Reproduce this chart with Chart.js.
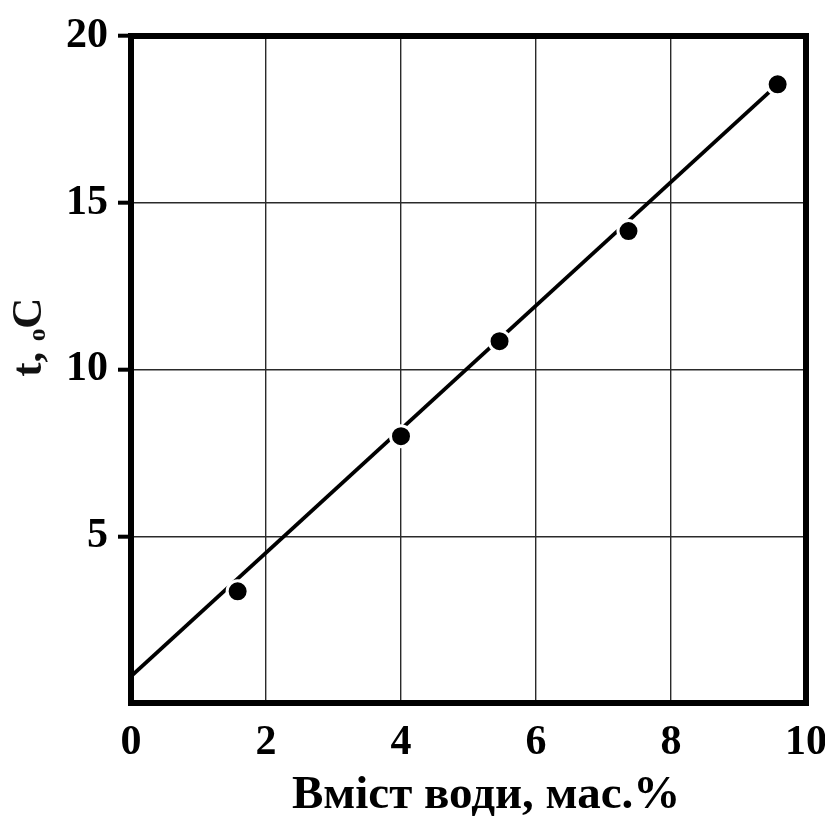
<!DOCTYPE html>
<html lang="uk">

<head>
    <meta charset="UTF-8">
    <title>Температура від вмісту води</title>
    <script src="https://cdn.jsdelivr.net/npm/chart.js"></script>
    <style>
        body {
            margin: 0;
            background: #fff;
        }
    </style>
</head>

<body>
    <canvas id="myChart" width="825" height="819"></canvas>

    <script>
        // точки з графіка
        const vmistVody = [1.58, 4.0, 5.46, 7.37, 9.58];
        const temperatura = [3.35, 8.0, 10.85, 14.15, 18.55];

        // пряма (апроксимація)
        const liniyaX = [0, 9.58];
        const liniyaY = [0.8, 18.55];

        // підписи осей
        const xTicks = [0, 2, 4, 6, 8, 10];
        const yTicks = [5, 10, 15, 20];

        const tochky = vmistVody.map((x, i) => ({ x: x, y: temperatura[i] }));
        const liniya = liniyaX.map((x, i) => ({ x: x, y: liniyaY[i] }));

        const shryft = 'Liberation Serif, Times New Roman, serif';

        // товста рамка навколо області графіка
        const ramka = {
            id: 'ramka',
            beforeDatasetsDraw(chart) {
                const a = chart.chartArea;
                const ctx = chart.ctx;
                ctx.save();
                ctx.strokeStyle = '#000';
                ctx.lineWidth = 6;
                ctx.strokeRect(a.left, a.top, a.right - a.left, a.bottom - a.top);
                ctx.restore();
            }
        };

        const config = {
            type: 'scatter',
            data: {
                datasets: [{
                    label: 'точки',
                    data: tochky,
                    showLine: false,
                    pointRadius: 10.5,
                    pointBackgroundColor: '#000',
                    pointBorderColor: '#fff',
                    pointBorderWidth: 3
                }, {
                    label: 'пряма',
                    data: liniya,
                    showLine: true,
                    borderColor: '#000',
                    borderWidth: 3.8,
                    pointRadius: 0
                }]
            },
            options: {
                responsive: false,
                animation: false,
                layout: {
                    padding: { top: 36, right: 19, bottom: 0, left: 0 }
                },
                plugins: {
                    legend: { display: false },
                    tooltip: { enabled: false }
                },
                scales: {
                    x: {
                        type: 'linear',
                        min: 0,
                        max: 10,
                        afterFit(scale) {
                            scale.height = 116;
                            scale.paddingLeft = 0;
                            scale.paddingRight = 0;
                        },
                        afterBuildTicks(scale) {
                            scale.ticks = xTicks.map(v => ({ value: v }));
                        },
                        border: { display: false },
                        grid: {
                            color: '#2a2a2a',
                            lineWidth: 1.4,
                            drawTicks: false
                        },
                        ticks: {
                            padding: 15,
                            color: '#000',
                            font: { family: shryft, size: 42, weight: 'bold' }
                        },
                        title: {
                            display: true,
                            text: '\u2002 Вміст води, мас.%',
                            color: '#000',
                            padding: { top: 0, bottom: 0 },
                            font: { family: shryft, size: 47, weight: 'bold', lineHeight: 1 }
                        }
                    },
                    y: {
                        type: 'linear',
                        min: 0,
                        max: 20,
                        afterFit(scale) {
                            scale.width = 131;
                            scale.paddingTop = 0;
                            scale.paddingBottom = 0;
                        },
                        afterBuildTicks(scale) {
                            scale.ticks = [0].concat(yTicks).map(v => ({ value: v }));
                        },
                        border: { display: false },
                        grid: {
                            color: '#2a2a2a',
                            lineWidth: 1.4,
                            drawTicks: true,
                            tickLength: 13,
                            tickWidth: 4,
                            tickColor: ctx => ctx.tick && ctx.tick.value === 0 ? 'rgba(0,0,0,0)' : '#000'
                        },
                        ticks: {
                            padding: 10,
                            color: '#000',
                            font: { family: shryft, size: 42, weight: 'bold' },
                            callback: v => v === 0 ? '' : v
                        },
                        title: {
                            display: true,
                            text: '\u2003\u2002t, ₒC',
                            color: '#111',
                            padding: { top: 4, bottom: 0 },
                            font: { family: shryft, size: 43, weight: 'bold' }
                        }
                    }
                }
            },
            plugins: [ramka]
        };

        const myChart = new Chart(document.getElementById('myChart'), config);
    </script>
</body>

</html>
